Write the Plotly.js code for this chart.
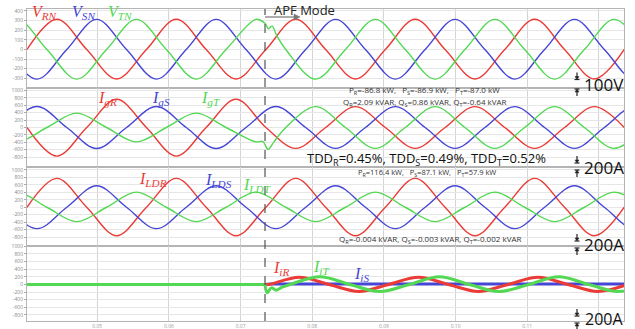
<!DOCTYPE html>
<html><head><meta charset="utf-8">
<script src="https://cdn.plot.ly/plotly-3.0.1.min.js"></script>
<style>html,body{margin:0;padding:0;background:#fff}#c{width:635px;height:329px}</style>
</head><body><div id="c"></div>
<script>
// ================= DATA =================
// time in ms, 60 Hz system
const periodMs = 1000 / 60;
const apfTimeMs = 73.41;
const xRangeMs = [40.2, 123.5];
const xTickVals = [0.05, 0.06, 0.07, 0.08, 0.09, 0.10, 0.11];
const xTickText = ['0.05', '0.06', '0.07', '0.08', '0.09', '0.10', '0.11'];

// Each waveform: time of first zero crossing (ms) + signed half-cycle peak values
// Panel 1: phase voltages (V)
const vRN_start = 40.2;
const vRN_peaks = [314, -306, 314, -306, 314, -306, 314, -306, 314, -306];
const vSN_start = 37.42;
const vSN_peaks = [-308, 312, -308, 312, -308, 312, -308, 312, -308, 312, -308];
const vTN_start = 34.64;
const vTN_peaks = [312, -308, 312, -308, 312, -308, 312, -308, 312, -308, 312];
const vTN_transT = [73.4, 73.9, 74.4, 75.0];
const vTN_transV = [272, 215, 245, 150];

// Panel 2: grid currents (A)
const igR_start = 40.2;
const igR_peaks = [-775, 765, -775, 765, -565, 565, -565, 565, -565, 565];
const igS_start = 37.42;
const igS_peaks = [568, -568, 568, -568, 568, -565, 565, -565, 565, -565, 565];
const igT_start = 34.64;
const igT_peaks = [-390, 390, -390, 390, -390, 565, -565, 565, -565, 565, -565];
const igT_transT = [73.13, 73.83, 74.66];
const igT_transV = [-380, -595, -390];

// Panel 3: load currents (A)
const ildR_start = 40.2;
const ildR_peaks = [775, -765, 775, -765, 775, -765, 775, -765, 775, -765];
const ildS_start = 37.42;
const ildS_peaks = [-575, 575, -575, 575, -575, 575, -575, 575, -575, 575, -575];
const ildT_start = 34.64;
const ildT_peaks = [405, -385, 405, -385, 405, -385, 405, -385, 405, -385, 405];

// Panel 4: inverter currents (A) - zero before APF mode
const offT = [34.0, apfTimeMs];
const offV = [0, 0];
const iiR_start = 74.0;
const iiR_peaks = [190, -185, 190, -185, 190, -185];
const iiT_transT = [73.41, 73.7, 74.3, 75.0, 75.8];
const iiT_transV = [0, -220, -90, -150, -70];
const iiT_start = 76.9;
const iiT_peaks = [200, -185, 200, -185, 200, -185];
const iiS_t = [73.41, 74.2, 127.0];
const iiS_v = [0, 15, 15];

// Annotation texts
const txtP1 = 'P<sub>R</sub>=-86.8 kW,\u00a0\u00a0\u00a0P<sub>S</sub>=-86.9 kW,\u00a0\u00a0\u00a0P<sub>T</sub>=-87.0 kW';
const txtQ1 = 'Q<sub>R</sub>=2.09 kVAR, Q<sub>S</sub>=0.86 kVAR, Q<sub>T</sub>=-0.64 kVAR';
const txtTDD = 'TDD<sub>R</sub>=0.45%, TDD<sub>S</sub>=0.49%, TDD<sub>T</sub>=0.52%';
const txtP2 = 'P<sub>R</sub>=116.4 kW,\u00a0\u00a0\u00a0P<sub>S</sub>=87.1 kW,\u00a0\u00a0\u00a0P<sub>T</sub>=57.9 kW';
const txtQ2 = 'Q<sub>R</sub>=-0.004 kVAR, Q<sub>S</sub>=-0.003 kVAR, Q<sub>T</sub>=-0.002 kVAR';

// ================= BUILD =================
const Q = periodMs / 4;
function wave(startMs, peaks) {
  const t = [], v = [];
  for (let i = 0; i < peaks.length; i++) {
    t.push(startMs + 2 * i * Q); v.push(0);
    t.push(startMs + (2 * i + 1) * Q); v.push(peaks[i]);
  }
  t.push(startMs + 2 * peaks.length * Q); v.push(0);
  return { t, v };
}
function combine(parts) {
  const pts = [];
  parts.forEach(p => p.t.forEach((tt, i) => pts.push([tt, p.v[i]])));
  pts.sort((a, b) => a[0] - b[0]);
  return { x: pts.map(p => p[0] / 1000), y: pts.map(p => p[1]) };
}
const RED = '#ea3b36', BLUE = '#4545d6', GREEN = '#52d852';
function tr(s, color, width, n, linear) {
  return { type: 'scatter', mode: 'lines', x: s.x, y: s.y, hoverinfo: 'skip',
    line: linear ? { color, width } : { color, width, shape: 'spline', smoothing: 1.0 },
    xaxis: 'x' + (n === 1 ? '' : n), yaxis: 'y' + (n === 1 ? '' : n) };
}
const traces = [
  tr(combine([wave(vRN_start, vRN_peaks)]), RED, 1.4, 1),
  tr(combine([wave(vSN_start, vSN_peaks)]), BLUE, 1.4, 1),
  tr(combine([wave(vTN_start, vTN_peaks), { t: vTN_transT, v: vTN_transV }]), GREEN, 1.4, 1),
  tr(combine([wave(igR_start, igR_peaks)]), RED, 1.4, 2),
  tr(combine([wave(igS_start, igS_peaks)]), BLUE, 1.4, 2),
  tr(combine([wave(igT_start, igT_peaks), { t: igT_transT, v: igT_transV }]), GREEN, 1.4, 2),
  tr(combine([wave(ildR_start, ildR_peaks)]), RED, 1.4, 3),
  tr(combine([wave(ildS_start, ildS_peaks)]), BLUE, 1.4, 3),
  tr(combine([wave(ildT_start, ildT_peaks)]), GREEN, 1.4, 3),
  tr(combine([{ t: offT, v: offV }]), GREEN, 3, 4, true),
  tr(combine([{ t: iiS_t, v: iiS_v }]), BLUE, 3, 4, true),
  tr(combine([{ t: [apfTimeMs], v: [0] }, wave(iiR_start, iiR_peaks)]), RED, 3, 4),
  tr(combine([{ t: iiT_transT, v: iiT_transV }, wave(iiT_start, iiT_peaks)]), GREEN, 3, 4)
];

// pixel -> paper helpers (layout only)
const PL = 27, PR = 624, PT = 9, PB = 321;
const X = px => (px - PL) / (PR - PL);
const Y = py => (PB - py) / (PB - PT);

const yRanges = [[-400, 420], [-1070, 1070], [-1040, 1080], [-960, 1010]];
const yDomains = [[Y(88), 1], [Y(167), Y(88)], [Y(246), Y(167)], [0, Y(246)]];
const yTicks = [
  [-300, -200, -100, 0, 100, 200, 300, 400],
  [-800, -600, -400, -200, 0, 200, 400, 600, 800, 1000],
  [-800, -600, -400, -200, 0, 200, 400, 600, 800, 1000],
  [-800, -600, -400, -200, 0, 200, 400, 600, 800, 1000]
];

const layout = {
  width: 635, height: 329,
  margin: { l: PL, r: 635 - PR, t: PT, b: 329 - PB },
  paper_bgcolor: '#fff', plot_bgcolor: '#fff',
  showlegend: false,
  font: { family: 'Open Sans, sans-serif', color: '#222' },
  shapes: [], annotations: []
};
for (let n = 1; n <= 4; n++) {
  const s = n === 1 ? '' : n;
  layout['xaxis' + s] = {
    range: xRangeMs.map(v => v / 1000), anchor: 'y' + s,
    tickvals: xTickVals, ticktext: xTickText, showticklabels: n === 4,
    tickfont: { size: 5, color: '#999' }, ticks: '', ticklen: 0,
    showgrid: true, gridcolor: '#d4d4d4', gridwidth: 1,
    minor: { tick0: 0, dtick: 0.01, showgrid: true, gridcolor: '#d4d4d4', gridwidth: 1, ticks: '' },
    showline: true, linecolor: '#b4b4b4', linewidth: 1, mirror: true, zeroline: false, fixedrange: true
  };
  layout['yaxis' + s] = {
    range: yRanges[n - 1], domain: yDomains[n - 1], anchor: 'x' + s,
    tickvals: yTicks[n - 1], ticktext: yTicks[n - 1].map(String),
    tickfont: { size: 5, color: '#888' }, ticks: 'outside', ticklen: 2, tickcolor: '#aaa',
    showgrid: true, gridcolor: '#e6e6e6', gridwidth: 1,
    showline: true, linecolor: '#b4b4b4', linewidth: 1, mirror: true, zeroline: false, fixedrange: true
  };
}

// APF dashed line
layout.shapes.push({ type: 'line', xref: 'x', yref: 'paper', x0: apfTimeMs / 1000, x1: apfTimeMs / 1000,
  y0: 0, y1: 1, line: { color: '#555', width: 1.2, dash: 'dash' } });

function lab(px, py, text, color, size, family) {
  layout.annotations.push({ xref: 'paper', yref: 'paper', x: X(px), y: Y(py), text, showarrow: false,
    xanchor: 'center', yanchor: 'middle', font: { color, size, family: family || 'Open Sans, sans-serif' } });
}
function pathPx(pts, color, fill) {
  const d = pts.map((p, i) => (i ? 'L' : 'M') + X(p[0]).toFixed(5) + ',' + Y(p[1]).toFixed(5)).join(' ') + (fill ? ' Z' : '');
  layout.shapes.push({ type: 'path', xref: 'paper', yref: 'paper', path: d,
    line: { color, width: fill ? 0.5 : 1.2 }, fillcolor: fill ? color : 'rgba(0,0,0,0)' });
}
const SERIF = 'Liberation Serif, serif';
lab(44, 13, '<i>V<sub>RN</sub></i>', RED, 16, SERIF);
lab(83, 13, '<i>V<sub>SN</sub></i>', BLUE, 16, SERIF);
lab(120, 13, '<i>V<sub>TN</sub></i>', GREEN, 16, SERIF);
lab(107, 98, '<i>I<sub>gR</sub></i>', RED, 16, SERIF);
lab(161, 98, '<i>I<sub>gS</sub></i>', BLUE, 16, SERIF);
lab(210, 99, '<i>I<sub>gT</sub></i>', GREEN, 16, SERIF);
lab(153, 179, '<i>I<sub>LDR</sub></i>', RED, 16, SERIF);
lab(218, 180, '<i>I<sub>LDS</sub></i>', BLUE, 16, SERIF);
lab(257, 185, '<i>I<sub>LDT</sub></i>', GREEN, 16, SERIF);
lab(281, 268, '<i>I<sub>iR</sub></i>', RED, 16, SERIF);
lab(321, 267, '<i>I<sub>iT</sub></i>', GREEN, 16, SERIF);
lab(362, 274, '<i>I<sub>iS</sub></i>', BLUE, 16, SERIF);

lab(304, 10, 'APF Mode', '#222', 13);
pathPx([[265, 17], [296, 17]], '#777', false);
pathPx([[300, 17], [294, 14], [294, 20]], '#777', true);

lab(424, 91, txtP1, '#333', 8);
lab(425, 102, txtQ1, '#333', 8);
lab(426, 159.5, txtTDD, '#111', 13);
lab(427, 173, txtP2, '#333', 7.5);
lab(430, 239, txtQ2, '#333', 8);

// scale markers
function marker(py, text, tipTop, tipBot, size) {
  lab(604, py, text, '#111', size);
  [[tipTop, -1], [tipBot, 1]].forEach(([tip, dir]) => {
    pathPx([[577, tip + dir * 7], [577, tip + dir * 2]], '#222', false);
    pathPx([[577, tip], [575, tip + dir * 3], [579, tip + dir * 3]], '#222', true);
    pathPx([[574.5, tip], [579.5, tip]], '#222', false);
  });
}
marker(84, '100V', 79.5, 89, 17);
marker(167, '200A', 163, 170, 17);
marker(244, '200A', 241, 248, 17);
marker(319, '200A', 316, 323, 16);

Plotly.newPlot('c', traces, layout, { staticPlot: true, displayModeBar: false });
</script>
</body></html>
